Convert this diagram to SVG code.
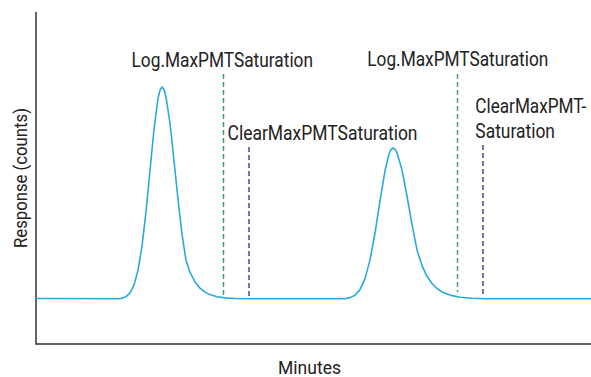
<svg xmlns="http://www.w3.org/2000/svg" width="591" height="377" viewBox="0 0 591 377">
  <style>
    .axis { stroke: #333333; stroke-width: 1.5; fill: none; }
    .trace { stroke: #29a9e1; stroke-width: 1.6; fill: none; stroke-linejoin: round; stroke-linecap: round; }
    .log { stroke: #3aa863; stroke-width: 1.5; stroke-dasharray: 5 3; fill: none; }
    .clear { stroke: #4545a0; stroke-width: 1.5; stroke-dasharray: 5 3; fill: none; }
    .lbl { font-family: Roboto, "Liberation Sans", sans-serif; font-size: 20px; fill: #222222; }
    .ttl { font-family: Roboto, "Liberation Sans", sans-serif; font-size: 19px; fill: #222222; }
  </style>

  <!-- axes -->
  <g id="axes">
    <polyline class="axis" points="36,12 36,344 591,344"/>
    <text class="ttl" x="278" y="373.5" textLength="63" lengthAdjust="spacingAndGlyphs">Minutes</text>
    <text class="ttl" transform="translate(27,178) rotate(-90)" x="-70" y="0" textLength="140" lengthAdjust="spacingAndGlyphs">Response (counts)</text>
  </g>

  <!-- chromatogram trace with two peaks -->
  <g id="trace">
    <polyline class="trace" points="36,298.5 120,298.7 126,296.7 130,292.9 134,285.1 138,270.3 142,246.1 146,211.9 150,170.4 154,129.3 158,98.5 160,90 162,87 164,89.5 166,96.8 170,123.5 174,160.5 178,199.5 182,234.1 186,260.4 190,272.2 195,282 200,288.2 205,292.1 210,294.6 217,296.7 225,297.9 235,298.5 250,298.7 345,298.7 350,297.6 355,295.2 360,289.6 365,278.6 370,259.9 375,233 380,200.9 385,170.8 389,154 391,149.5 393,148 395,149.3 397,152.7 402,170.1 407,196 412,224.4 417,249.9 422,265.6 427,276.3 432,283.5 437,288.5 443,292.6 450,295.1 460,297.2 472,298.3 485,298.7 591,298.7"/>
  </g>

  <!-- saturation event markers -->
  <g id="markers">
    <line class="log" x1="223.5" y1="74" x2="223.5" y2="296"/>
    <line class="clear" x1="249" y1="147" x2="249" y2="296"/>
    <line class="log" x1="457.5" y1="74" x2="457.5" y2="292"/>
    <line class="clear" x1="483" y1="145" x2="483" y2="294"/>
  </g>

  <!-- event labels -->
  <g id="label-log-1">
    <text class="lbl" x="131.5" y="66.5" textLength="181.5" lengthAdjust="spacingAndGlyphs">Log.MaxPMTSaturation</text>
  </g>
  <g id="label-clear-1">
    <text class="lbl" x="227.5" y="139.5" textLength="190" lengthAdjust="spacingAndGlyphs">ClearMaxPMTSaturation</text>
  </g>
  <g id="label-log-2">
    <text class="lbl" x="367.3" y="66" textLength="181" lengthAdjust="spacingAndGlyphs">Log.MaxPMTSaturation</text>
  </g>
  <g id="label-clear-2">
    <text class="lbl" x="475.3" y="112.7" textLength="111" lengthAdjust="spacingAndGlyphs">ClearMaxPMT-</text>
    <text class="lbl" x="475.3" y="137.7" textLength="79.7" lengthAdjust="spacingAndGlyphs">Saturation</text>
  </g>
</svg>
